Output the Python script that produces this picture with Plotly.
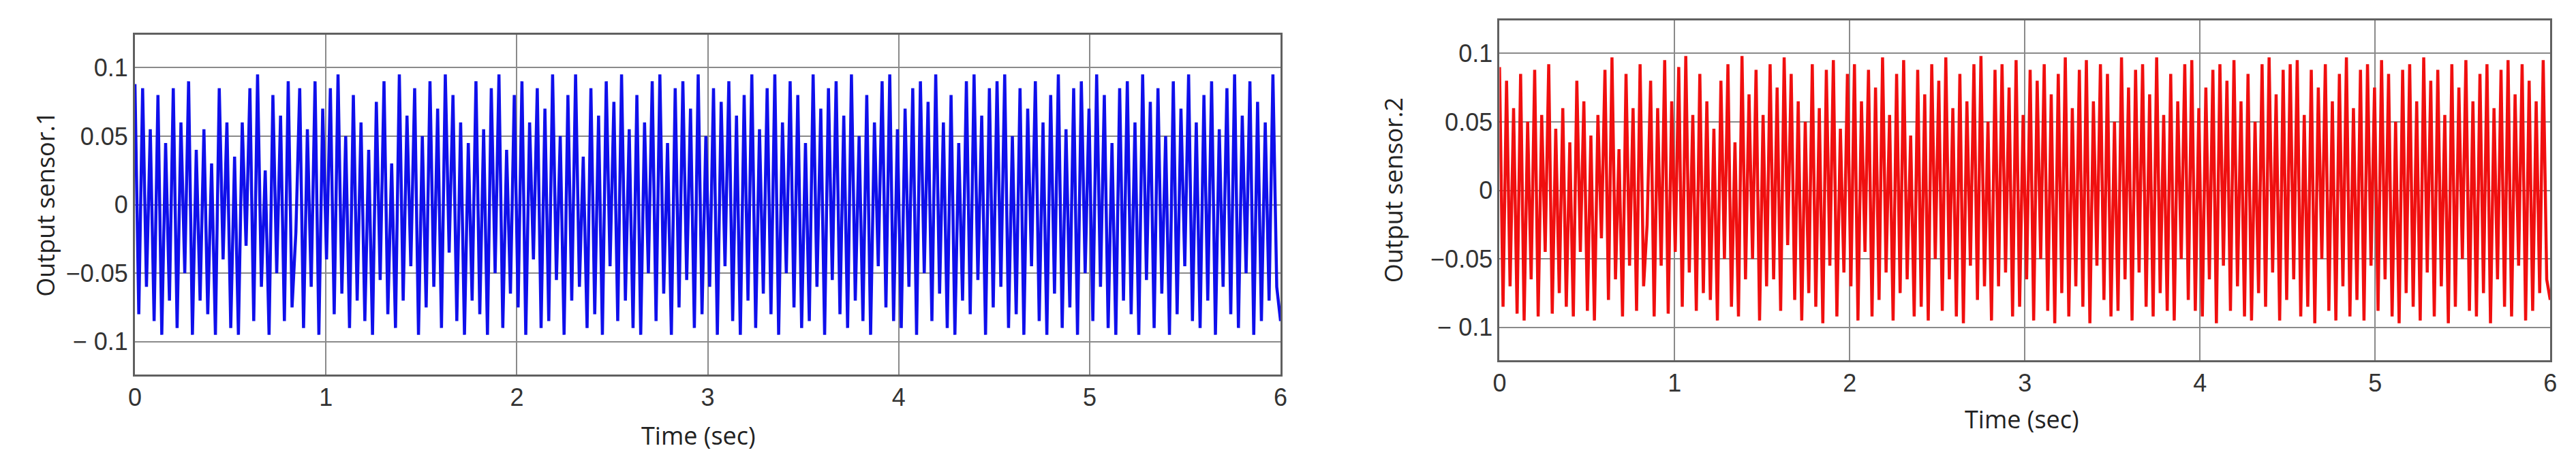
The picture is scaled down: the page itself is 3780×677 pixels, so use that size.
import plotly.graph_objects as go

# values in thousandths (300 samples over 0..6 s)
sensor1_milli = [
 88,-80,85,-60,55,-85,80,-95,45,-70,85,-90,60,-50,90,-95,40,-70,55,-80,
 30,-95,85,-40,60,-90,35,-95,60,-30,85,-85,95,-60,25,-95,80,-50,65,-85,
 90,-75,-20,85,-90,55,-60,90,-95,70,-40,85,-80,95,-65,50,-90,80,-70,60,
 -85,40,-95,75,-55,90,-80,30,-90,95,-70,65,-45,85,-95,50,-75,90,-60,70,
 -90,95,-35,80,-85,60,-95,45,-70,90,-80,55,-95,85,-50,95,-90,40,-65,80,
 -75,90,-95,60,-40,85,-90,70,-85,95,-55,50,-95,80,-70,95,-60,35,-90,85,
 -80,65,-95,90,-45,75,-85,95,-70,55,-90,80,-95,60,-50,90,-85,95,-65,45,
 -95,85,-75,90,-55,70,-90,95,-80,50,-60,85,-95,75,-45,90,-85,65,-95,80,
 -70,95,-90,55,-65,85,-80,95,-95,60,-50,90,-75,80,-90,45,-85,95,-60,70,
 -95,85,-55,90,-80,65,-90,95,-70,50,-85,80,-95,60,-45,90,-75,95,-85,55,
 -90,70,-60,85,-95,90,-50,75,-85,95,-65,60,-90,80,-95,45,-70,90,-80,95,
 -55,65,-95,85,-75,90,-60,95,-90,50,-80,85,-95,70,-45,90,-85,60,-95,80,
 -65,95,-90,55,-75,85,-95,90,-50,70,-85,95,-60,80,-90,45,-95,85,-70,90,
 -80,60,-95,95,-55,75,-90,85,-65,50,-95,90,-80,70,-45,95,-85,60,-90,80,
 -70,90,-95,55,-60,85,-80,95,-90,65,-50,90,-95,75,-85,60,-70,95,-60,-85]

sensor2_milli = [
 90,-85,80,-70,60,-90,85,-95,50,-65,88,-92,55,-45,92,-90,45,-75,60,-85,
 35,-92,80,-45,65,-88,40,-95,55,-35,88,-80,97,-65,30,-92,85,-55,60,-88,
 92,-70,-25,80,-92,60,-55,95,-90,65,-45,90,-85,98,-60,55,-88,85,-75,65,
 -80,45,-95,80,-50,92,-85,35,-92,98,-65,70,-50,88,-95,55,-70,92,-65,75,
 -88,97,-40,85,-80,65,-95,50,-75,92,-85,60,-97,88,-55,95,-92,45,-60,85,
 -70,92,-95,65,-45,88,-92,75,-80,97,-60,55,-95,85,-75,95,-65,40,-92,88,
 -85,70,-95,92,-50,80,-88,97,-65,60,-92,85,-97,65,-55,92,-80,98,-70,50,
 -95,88,-70,92,-60,75,-92,95,-85,55,-65,88,-95,80,-50,92,-88,70,-97,85,
 -75,97,-92,60,-70,88,-85,95,-97,65,-55,92,-80,85,-92,50,-88,97,-65,75,
 -95,88,-60,92,-85,70,-92,97,-75,55,-88,85,-95,65,-50,92,-80,95,-88,60,
 -92,75,-65,88,-97,92,-55,80,-88,95,-70,65,-92,85,-95,50,-75,92,-85,97,
 -60,70,-95,88,-80,92,-65,95,-92,55,-85,88,-97,75,-50,92,-88,65,-95,85,
 -70,97,-92,60,-80,88,-95,92,-55,75,-88,95,-65,85,-92,50,-97,88,-75,92,
 -85,65,-95,97,-60,80,-92,88,-70,55,-97,92,-85,75,-50,95,-88,65,-92,85,
 -75,92,-97,60,-65,88,-85,95,-92,70,-55,92,-95,80,-88,65,-75,95,-65,-80]

time_end = 6.0
x_ticks = [0, 1, 2, 3, 4, 5, 6]
y_ticks = [-0.1, -0.05, 0, 0.05, 0.1]
y_ticktext = ["\u2212 0.1", "\u22120.05", "0", "0.05", "0.1"]
y_titles = ["Output sensor.1", "Output sensor.2"]
x_title = "Time (sec)"

def times(n):
    return [time_end * i / (n - 1) for i in range(n)]

s1 = [v / 1000 for v in sensor1_milli]
s2 = [v / 1000 for v in sensor2_milli]

fig = go.Figure()
fig.add_trace(go.Scatter(x=times(len(s1)), y=s1, mode="lines",
                         line=dict(color="rgb(15,15,235)", width=4.5), xaxis="x", yaxis="y"))
fig.add_trace(go.Scatter(x=times(len(s2)), y=s2, mode="lines",
                         line=dict(color="rgb(240,15,15)", width=4.5), xaxis="x2", yaxis="y2"))

axis_common = dict(showgrid=True, gridcolor="#8a8a8a", gridwidth=1.5, showline=True,
                   linecolor="#606060", linewidth=3, mirror=True, zeroline=False,
                   ticks="", layer="above traces",
                   tickfont=dict(family="Liberation Sans", size=36, color="#333333"))

fig.update_layout(
    width=3780, height=677, margin=dict(l=0, r=0, t=0, b=0),
    paper_bgcolor="white", plot_bgcolor="white", showlegend=False,
    xaxis=dict(domain=[181/3780, 1871/3780], range=[0, 6], tickvals=x_ticks, anchor="y", **axis_common),
    yaxis=dict(domain=[1-542/677, 1-43/677], range=[-0.124, 0.124], tickvals=y_ticks,
               ticktext=y_ticktext, anchor="x", **axis_common),
    xaxis2=dict(domain=[2194/3780, 3744/3780], range=[0, 6], tickvals=x_ticks, anchor="y2", **axis_common),
    yaxis2=dict(domain=[1-521/677, 1-22/677], range=[-0.124, 0.124], tickvals=y_ticks,
                ticktext=y_ticktext, anchor="x2", **axis_common),
)

title_font = dict(family="Open Sans", size=36, color="#222222")
annotations = [
    dict(text=y_titles[0], x=48/3780, y=1-292/677, textangle=-90),
    dict(text=y_titles[1], x=2037/3780, y=1-271/677, textangle=-90),
    dict(text=x_title, x=1012/3780, y=1-631/677),
    dict(text=x_title, x=2965/3780, y=1-607/677),
]
for a in annotations:
    fig.add_annotation(xref="paper", yref="paper", showarrow=False, font=title_font,
                       xanchor="center", yanchor="middle", **a)

fig.write_html("out.html")
